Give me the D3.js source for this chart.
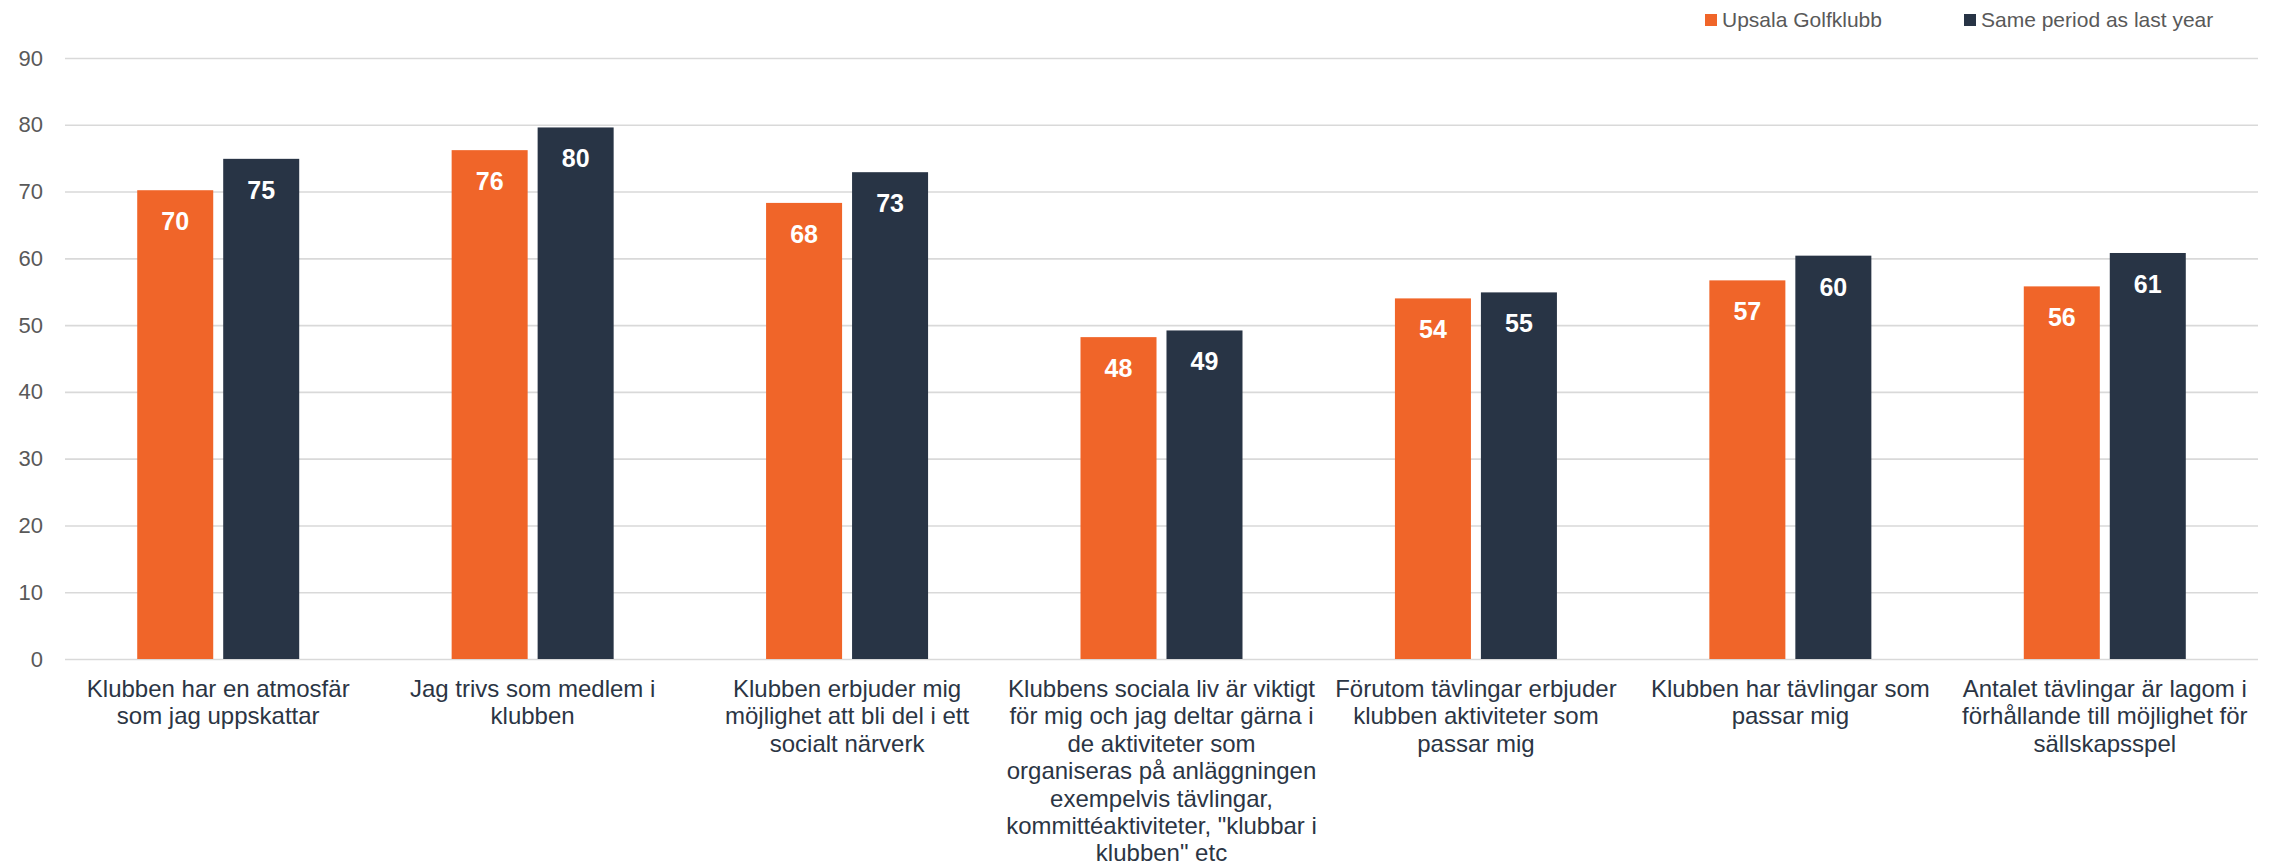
<!DOCTYPE html>
<html>
<head>
<meta charset="utf-8">
<script src="https://cdn.jsdelivr.net/npm/d3@7"></script>
<style>
  html, body { margin: 0; padding: 0; background: #fff; }
  svg { display: block; font-family: "Liberation Sans", Arial, sans-serif; }
</style>
</head>
<body>
<svg id="chart" width="2270" height="867"></svg>
<script>
const categories = [
  ["Klubben har en atmosfär", "som jag uppskattar"],
  ["Jag trivs som medlem i", "klubben"],
  ["Klubben erbjuder mig", "möjlighet att bli del i ett", "socialt närverk"],
  ["Klubbens sociala liv är viktigt", "för mig och jag deltar gärna i", "de aktiviteter som", "organiseras på anläggningen", "exempelvis tävlingar,", "kommittéaktiviteter, \"klubbar i", "klubben\" etc"],
  ["Förutom tävlingar erbjuder", "klubben aktiviteter som", "passar mig"],
  ["Klubben har tävlingar som", "passar mig"],
  ["Antalet tävlingar är lagom i", "förhållande till möjlighet för", "sällskapsspel"]
];
const seriesNames = ["Upsala Golfklubb", "Same period as last year"];
const upsala = [70.2, 76.2, 68.3, 48.2, 54.0, 56.7, 55.8];
const lastYear = [74.9, 79.6, 72.9, 49.2, 54.9, 60.4, 60.8];
const yTicks = [0, 10, 20, 30, 40, 50, 60, 70, 80, 90];
const colors = ["#F06529", "#283445"];

const svg = d3.select("#chart");
const W = 2270, H = 867;
const gridLeft = 65, gridRight = 2258;
const x0 = d3.scaleBand().domain(d3.range(categories.length))
  .range([61, 2262]).padding(0);
const bw = x0.bandwidth();
const groupW = 162;
const x1 = d3.scaleBand().domain([0, 1])
  .range([(bw - groupW) / 2, (bw + groupW) / 2]).paddingInner(0.116).paddingOuter(0);
const y = d3.scaleLinear().domain([0, 90]).range([659, 58]);

// gridlines + y ticks
const yAxis = d3.axisLeft(y).tickValues(yTicks).tickSize(-(gridRight - gridLeft)).tickPadding(22);
const gy = svg.append("g").attr("transform", `translate(${gridLeft},0)`).call(yAxis);
gy.select(".domain").remove();
gy.selectAll(".tick line").attr("stroke", "#D9D9D9").attr("stroke-width", 1.6);
gy.selectAll(".tick text").attr("fill", "#595959").style("font-size", "22px")
  .style("font-family", "'Liberation Sans', Arial, sans-serif");

// bars
const seriesData = [upsala, lastYear];
const groups = svg.append("g").selectAll("g").data(categories).join("g")
  .attr("transform", (d, i) => `translate(${x0(i)},0)`);
groups.each(function(d, i) {
  const g = d3.select(this);
  seriesData.forEach((s, si) => {
    const v = s[i];
    g.append("rect")
      .attr("x", x1(si)).attr("width", x1.bandwidth())
      .attr("y", y(v)).attr("height", y(0) - y(v))
      .attr("fill", colors[si]);
    g.append("text")
      .attr("x", x1(si) + x1.bandwidth() / 2)
      .attr("y", y(v) + 40)
      .attr("text-anchor", "middle")
      .attr("fill", "#fff")
      .style("font-size", "25px").style("font-weight", "bold")
      .text(Math.round(v));
  });
});

// category labels
const lab = svg.append("g");
categories.forEach((lines, i) => {
  const t = lab.append("text")
    .attr("text-anchor", "middle")
    .attr("fill", "#2B3544")
    .style("font-size", "24px");
  lines.forEach((ln, li) => {
    t.append("tspan")
      .attr("x", x0(i) + bw / 2)
      .attr("y", y(0) + 38 + li * 27.4)
      .text(ln);
  });
});
lab.selectAll("tspan").each(function() {
  const len = this.getComputedTextLength();
  if (len > bw - 4) d3.select(this).attr("textLength", bw - 4).attr("lengthAdjust", "spacingAndGlyphs");
});

// legend
const legendX = [1705, 1964];
seriesNames.forEach((n, i) => {
  const g = svg.append("g").attr("transform", `translate(${legendX[i]},0)`);
  g.append("rect").attr("x", 0).attr("y", 14).attr("width", 12).attr("height", 12).attr("fill", colors[i]);
  g.append("text").attr("x", 17).attr("y", 27).attr("fill", "#595959")
    .style("font-size", "21px").text(n);
});
</script>
</body>
</html>
